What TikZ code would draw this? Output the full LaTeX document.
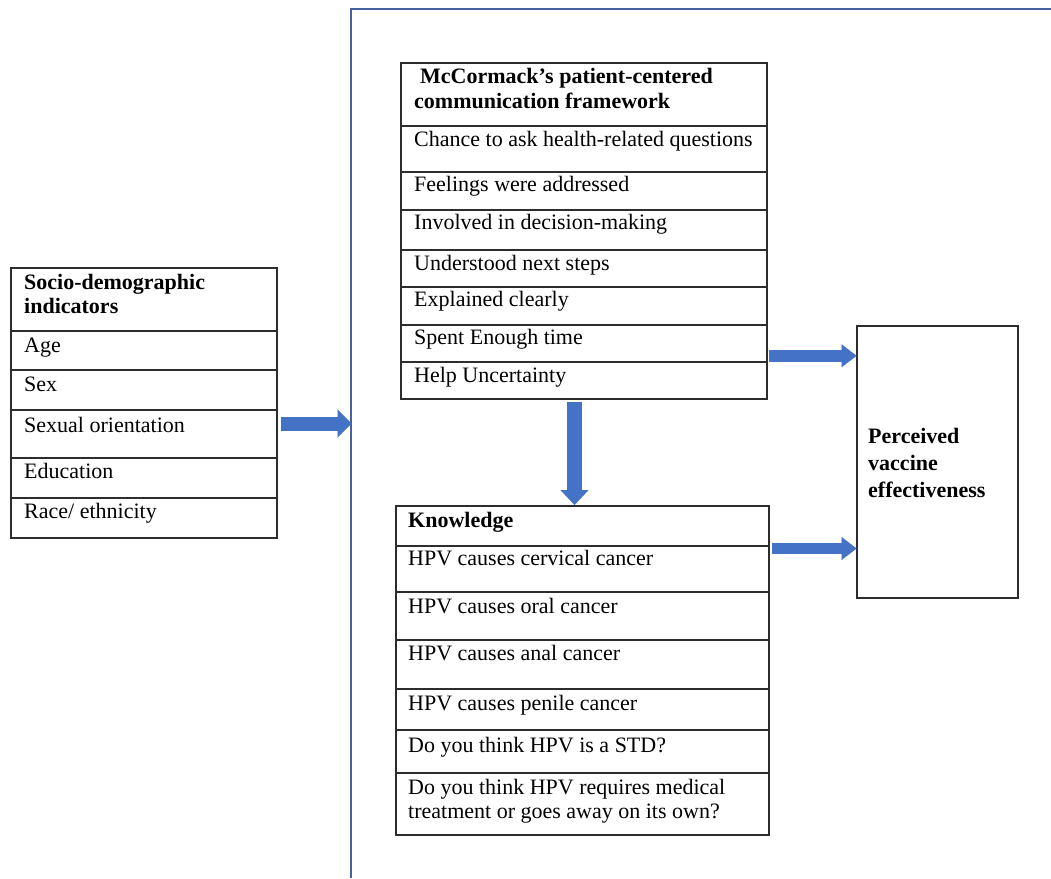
\documentclass[tikz,border=0pt]{standalone}
\usepackage{fontspec}
\setmainfont{Liberation Serif}
\usetikzlibrary{arrows.meta,calc}
\definecolor{arrowblue}{RGB}{68,114,196}
\definecolor{framecol}{RGB}{72,96,158}
\definecolor{boxline}{RGB}{45,45,45}
\begin{document}
\begin{tikzpicture}[x=1pt,y=-1pt,
  cell/.style={draw=boxline,line width=1.3pt,anchor=north west,inner sep=0pt,outer sep=0pt},
  txt/.style={anchor=base west,inner sep=0pt,font=\fontsize{22}{25}\selectfont},
  btxt/.style={anchor=base west,inner sep=0pt,font=\fontsize{22}{25}\selectfont\bfseries},
  barrow/.style={draw=arrowblue,line cap=butt}
  ]
\useasboundingbox (0,0) rectangle (1051,878);
% frame
\coordinate (fb) at (351,878);
\coordinate (ftl) at (351,9);
\coordinate (ftr) at (1052,9);
\draw[framecol,line width=1.5pt] (fb) -- (ftl) -- (ftr);

% socio-demographic table
\node[cell,minimum width=266pt,minimum height=63pt] (s0) at (11,268) {};
\node[cell,minimum width=266pt,minimum height=39pt] (s1) at (11,331) {};
\node[cell,minimum width=266pt,minimum height=40pt] (s2) at (11,370) {};
\node[cell,minimum width=266pt,minimum height=48pt] (s3) at (11,410) {};
\node[cell,minimum width=266pt,minimum height=40pt] (s4) at (11,458) {};
\node[cell,minimum width=266pt,minimum height=40pt] (s5) at (11,498) {};
\node[btxt] (s0a) at (24,289) {Socio-demographic};
\node[btxt] (s0b) at (24,313) {indicators};
\node[txt] (s1t) at (24,352) {Age};
\node[txt] (s2t) at (24,391) {Sex};
\node[txt] (s3t) at (24,432) {Sexual orientation};
\node[txt] (s4t) at (24,478) {Education};
\node[txt] (s5t) at (24,518) {Race/ ethnicity};

% McCormack table
\node[cell,minimum width=366pt,minimum height=63pt] (m0) at (401,63) {};
\node[cell,minimum width=366pt,minimum height=46pt] (m1) at (401,126) {};
\node[cell,minimum width=366pt,minimum height=38pt] (m2) at (401,172) {};
\node[cell,minimum width=366pt,minimum height=40pt] (m3) at (401,210) {};
\node[cell,minimum width=366pt,minimum height=37pt] (m4) at (401,250) {};
\node[cell,minimum width=366pt,minimum height=38pt] (m5) at (401,287) {};
\node[cell,minimum width=366pt,minimum height=37pt] (m6) at (401,325) {};
\node[cell,minimum width=366pt,minimum height=37pt] (m7) at (401,362) {};
\node[btxt] (m0a) at (420,83) {McCormack’s patient-centered};
\node[btxt] (m0b) at (414,108) {communication framework};
\node[txt] (m1t) at (414,146) {Chance to ask health-related questions};
\node[txt] (m2t) at (414,191) {Feelings were addressed};
\node[txt] (m3t) at (414,229) {Involved in decision-making};
\node[txt] (m4t) at (414,270) {Understood next steps};
\node[txt] (m5t) at (414,306) {Explained clearly};
\node[txt] (m6t) at (414,344) {Spent Enough time};
\node[txt] (m7t) at (414,382) {Help Uncertainty};

% Knowledge table
\node[cell,minimum width=373pt,minimum height=40pt] (k0) at (396,506) {};
\node[cell,minimum width=373pt,minimum height=46pt] (k1) at (396,546) {};
\node[cell,minimum width=373pt,minimum height=48pt] (k2) at (396,592) {};
\node[cell,minimum width=373pt,minimum height=49pt] (k3) at (396,640) {};
\node[cell,minimum width=373pt,minimum height=41pt] (k4) at (396,689) {};
\node[cell,minimum width=373pt,minimum height=43pt] (k5) at (396,730) {};
\node[cell,minimum width=373pt,minimum height=62pt] (k6) at (396,773) {};
\node[btxt] (k0t) at (408,527) {Knowledge};
\node[txt] (k1t) at (408,565) {HPV causes cervical cancer};
\node[txt] (k2t) at (408,613) {HPV causes oral cancer};
\node[txt] (k3t) at (408,660) {HPV causes anal cancer};
\node[txt] (k4t) at (408,710) {HPV causes penile cancer};
\node[txt] (k5t) at (408,752) {Do you think HPV is a STD?};
\node[txt] (k6a) at (408,794) {Do you think HPV requires medical};
\node[txt] (k6b) at (408,818) {treatment or goes away on its own?};

% Perceived vaccine effectiveness
\node[cell,minimum width=161pt,minimum height=272pt] (pv) at (857,326) {};
\node[btxt] (pva) at (868,443) {Perceived};
\node[btxt] (pvb) at (868,470) {vaccine};
\node[btxt] (pvc) at (868,497) {effectiveness};

% arrows
\coordinate (a1s) at (280.5,423.5);
\coordinate (a1e) at (351.5,423.5);
\draw[barrow,line width=14pt,-{Triangle[length=14pt,width=28pt,line width=0.1pt]}] (a1s) -- (a1e);

\coordinate (a2s) at (574.5,401.5);
\coordinate (a2e) at (574.5,505);
\draw[barrow,line width=15pt,-{Triangle[length=15pt,width=28pt,line width=0.1pt]}] (a2s) -- (a2e);

\coordinate (a3s) at (768.5,355.8);
\coordinate (a3e) at (856.5,355.8);
\draw[barrow,line width=11.7pt,-{Triangle[length=15pt,width=23pt,line width=0.1pt]}] (a3s) -- (a3e);

\coordinate (a4s) at (771.5,548.5);
\coordinate (a4e) at (856.5,548.5);
\draw[barrow,line width=11.5pt,-{Triangle[length=15pt,width=23pt,line width=0.1pt]}] (a4s) -- (a4e);
\end{tikzpicture}
\end{document}
